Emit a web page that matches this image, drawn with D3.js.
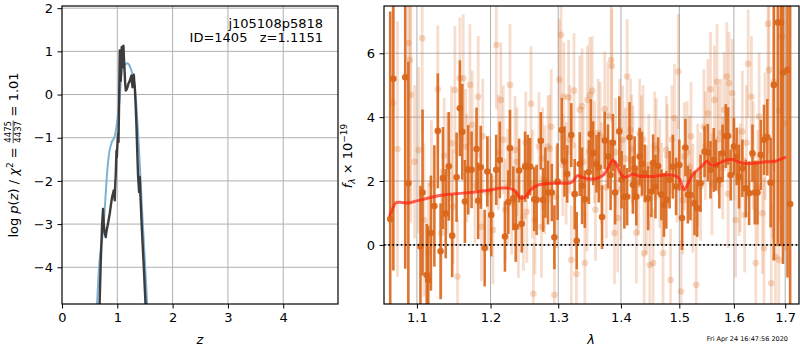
<!DOCTYPE html>
<meta charset="utf-8">
<style>
  body { margin: 0; background: #fff; }
  svg { font-family: "DejaVu Sans", sans-serif; }
</style>
<body>
<svg id="fig" width="800" height="350"></svg>

<script src="https://cdnjs.cloudflare.com/ajax/libs/d3/7.8.5/d3.min.js"></script>
<script>

// ---- left panel: log p(z)
var zTicks = [0, 1, 2, 3, 4]
var pTicks = [-4, -3, -2, -1, 0, 1, 2]

var blueZ    = [0.60, 0.634, 0.67, 0.70, 0.73, 0.77, 0.80, 0.83, 0.86, 0.90, 0.95, 1.00, 1.04, 1.075, 1.117, 1.165, 1.20, 1.256, 1.29, 1.316, 1.346, 1.376, 1.406, 1.44, 1.47, 1.50, 1.54, 1.57]
var blueLogP = [-5.8, -4.85, -4.0, -3.6, -3.3, -2.7, -2.1, -1.6, -1.3, -1.1, -0.98, -0.6, -0.15, 0.45, 0.66, 0.72, 0.71, 0.55, 0.38, 0.17, -0.3, -0.9, -1.6, -2.5, -3.2, -3.9, -4.85, -5.6]

var darkZ    = [0.675, 0.68, 0.70, 0.725, 0.742, 0.755, 0.77, 0.791, 0.80, 0.83, 0.863, 0.885, 0.905, 0.936, 0.954, 0.962, 0.972, 0.985, 0.992, 1.0, 1.014, 1.022, 1.03, 1.044, 1.053, 1.062, 1.071, 1.08, 1.087, 1.093, 1.102, 1.111, 1.12, 1.129, 1.14, 1.153, 1.17, 1.184, 1.2, 1.22, 1.24, 1.256, 1.265, 1.274, 1.286, 1.298, 1.307, 1.316, 1.33, 1.347, 1.36, 1.376, 1.386, 1.394, 1.4, 1.406, 1.42, 1.437, 1.455, 1.479, 1.51, 1.53]
var darkLogP = [-5.5, -4.85, -3.9, -3.0, -2.65, -3.0, -3.2, -3.3, -3.2, -3.0, -2.76, -2.55, -2.38, -2.22, -2.45, -2.1, -1.84, -1.3, -1.45, -1.2, -0.9, -1.1, -0.4, 1.02, 0.6, 0.32, 0.9, 1.1, 0.75, 0.63, 1.0, 1.13, 0.85, 0.63, 0.3, 0.09, 0.12, 0.17, 0.25, 0.3, 0.38, 0.44, 0.3, 0.17, 0.35, 0.46, 0.3, 0.17, -0.2, -0.76, -1.3, -1.91, -2.1, -2.26, -1.95, -1.91, -2.4, -2.92, -3.4, -4.0, -4.85, -5.5]

// ---- right panel: spectrum
var waveTicks = [1.1, 1.2, 1.3, 1.4, 1.5, 1.6, 1.7]
var fluxTicks = [0, 2, 4, 6]

var darkWave = [
  1.0658, 1.0698, 1.0849, 1.0889, 1.1046, 1.1073, 1.1128, 1.1147, 1.1183, 1.1229,
  1.1275, 1.1312, 1.1344, 1.1381, 1.1422, 1.1468, 1.1528, 1.1573, 1.1606, 1.1642,
  1.1688, 1.1734, 1.1803, 1.1826, 1.1862, 1.1917, 1.1954, 1.2010, 1.2081, 1.2132,
  1.2206, 1.2255, 1.2279, 1.2328, 1.2363, 1.2412, 1.2451, 1.2500, 1.2539, 1.2574,
  1.2637, 1.2672, 1.2735, 1.2770, 1.2804, 1.2843, 1.2902, 1.2941, 1.2990, 1.3053,
  1.3096, 1.3138, 1.3202, 1.3255, 1.3287, 1.3335, 1.3372, 1.3415, 1.3479, 1.3511,
  1.3548, 1.3601, 1.3638, 1.3691, 1.3734, 1.3787, 1.3830, 1.3867, 1.3904, 1.3973,
  1.4011, 1.4057, 1.4103, 1.4143, 1.4200, 1.4229, 1.4257, 1.4314, 1.4354, 1.4400,
  1.4457, 1.4514, 1.4543, 1.4583, 1.4629, 1.4686, 1.4731, 1.4771, 1.4829, 1.4886,
  1.4943, 1.5000, 1.5048, 1.5109, 1.5152, 1.5200, 1.5273, 1.5321, 1.5382, 1.5455,
  1.5515, 1.5564, 1.5624, 1.5667, 1.5727, 1.5788, 1.5848, 1.5891, 1.5939, 1.6000,
  1.6052, 1.6097, 1.6161, 1.6226, 1.6290, 1.6355, 1.6400, 1.6452, 1.6516, 1.6581,
  1.6645, 1.6710, 1.6774, 1.6852, 1.6916, 1.6955, 1.7047, 1.7100]
var darkFlux = [
  0.81, 5.20, 5.25, 1.93, -0.05, 1.64, -0.94, -1.10, 0.37, 1.22,
  3.57, -0.20, 2.09, 0.98, 2.46, 0.29, 2.12, 4.28, 3.54, 1.36,
  2.35, 2.35, 3.00, 1.38, 2.43, -0.10, 2.30, 0.94, 2.35, 2.66,
  0.26, 1.34, 3.03, 1.46, 0.57, 2.33, 0.66, 2.45, 2.45, 2.45,
  1.43, 1.41, 3.26, 1.41, 1.95, 1.64, 1.64, 0.24, 1.98, 3.60,
  2.61, 2.22, 3.44, 1.59, 0.13, 2.53, 1.85, 1.43, 2.28, 3.47,
  2.87, 2.54, 2.43, 0.87, 3.27, 2.77, 2.19, 3.20, 1.64, 3.55,
  2.04, 1.51, 1.51, 3.37, 1.88, 2.40, 1.51, 2.77, 2.54, 2.24,
  1.46, 1.67, 2.56, 1.83, 2.47, 1.57, 1.25, 1.41, 2.04, 2.45,
  1.83, 2.50, 0.84, 3.05, 1.57, 1.57, 1.30, 1.15, 1.93, 2.92,
  2.89, 2.35, 2.66, 2.50, 2.04, 2.87, 3.41, 3.41, 2.19, 3.08,
  2.77, 2.14, 2.40, 1.77, 1.62, 2.87, 1.64, 1.64, 2.82, 3.29,
  3.37, 1.95, 5.01, 6.96, 6.96, 5.40, 5.48, 1.28]
var darkErr = [
  6.5, 6.0, 6.0, 3.8, 1.9, 2.6, 1.6, 1.7, 1.8, 1.9,
  1.8, 1.5, 1.6, 1.4, 1.7, 1.3, 1.4, 1.5, 1.5, 1.3,
  1.4, 1.2, 1.3, 1.2, 1.3, 1.2, 1.1, 1.3, 1.1, 1.2,
  1.1, 1.0, 1.2, 1.0, 1.1, 1.0, 0.9, 1.1, 1.0, 0.9,
  1.0, 1.1, 0.9, 1.0, 1.1, 1.0, 0.9, 1.0, 1.2, 1.0,
  1.1, 0.9, 1.0, 1.1, 0.9, 1.0, 1.2, 0.9, 1.0, 1.1,
  1.0, 0.9, 1.1, 1.0, 0.9, 1.0, 1.1, 0.9, 1.0, 1.1,
  0.9, 1.0, 0.9, 1.1, 0.9, 1.0, 0.9, 0.9, 1.0, 0.9,
  1.0, 0.8, 0.9, 1.0, 0.9, 0.8, 1.0, 0.9, 0.9, 1.0,
  0.9, 0.8, 1.0, 0.9, 0.9, 0.8, 1.0, 0.9, 0.9, 0.8,
  0.9, 0.9, 1.0, 0.8, 0.9, 0.9, 1.0, 0.9, 0.8, 0.9,
  0.9, 1.0, 0.9, 0.9, 1.0, 0.9, 1.0, 1.0, 1.1, 1.1,
  1.2, 1.4, 5.5, 7.0, 7.0, 6.0, 6.5, 7.0]

var lightWave = [
  1.0689, 1.0889, 1.0911, 1.0920, 1.1023, 1.1069, 1.1092, 1.1147, 1.1275, 1.1321,
  1.1404, 1.1459, 1.1505, 1.1541, 1.1573, 1.1619, 1.1651, 1.1711, 1.1743, 1.1780,
  1.1826, 1.1872, 1.1963, 1.2034, 1.2083, 1.2147, 1.2181, 1.2245, 1.2279, 1.2304,
  1.2353, 1.2402, 1.2475, 1.2525, 1.2588, 1.2623, 1.2647, 1.2706, 1.2745, 1.2794,
  1.2843, 1.2892, 1.2941, 1.3016, 1.3043, 1.3085, 1.3122, 1.3160, 1.3202, 1.3245,
  1.3282, 1.3335, 1.3372, 1.3415, 1.3457, 1.3495, 1.3532, 1.3585, 1.3628, 1.3681,
  1.3734, 1.3787, 1.3840, 1.3851, 1.3894, 1.3947, 1.4000, 1.4029, 1.4103, 1.4160,
  1.4200, 1.4257, 1.4314, 1.4343, 1.4389, 1.4429, 1.4486, 1.4543, 1.4600, 1.4657,
  1.4714, 1.4771, 1.4846, 1.4914, 1.4983, 1.5030, 1.5091, 1.5182, 1.5242, 1.5303,
  1.5382, 1.5442, 1.5515, 1.5564, 1.5636, 1.5685, 1.5758, 1.5818, 1.5867, 1.5909,
  1.5970, 1.6032, 1.6097, 1.6161, 1.6206, 1.6271, 1.6335, 1.6419, 1.6484, 1.6548,
  1.6581, 1.6658, 1.6677, 1.6723, 1.6774, 1.6806, 1.6871, 1.6935,
  1.075, 1.097, 1.119, 1.136, 1.148, 1.167, 1.189, 1.199, 1.211, 1.221,
  1.238, 1.251, 1.261, 1.276, 1.287, 1.297, 1.307, 1.318, 1.326, 1.339,
  1.345, 1.357, 1.366, 1.376, 1.391, 1.398, 1.407, 1.418, 1.429, 1.437,
  1.447, 1.457, 1.469, 1.479, 1.487, 1.496, 1.506, 1.514, 1.521, 1.533,
  1.547, 1.559, 1.571, 1.579, 1.589, 1.600, 1.612, 1.624, 1.637, 1.646,
  1.660, 1.675, 1.688, 1.700]
var lightFlux = [
  4.44, 6.32, 5.79, 4.70, 2.97, 6.47, 0.78, -0.26, 4.87, 0.37,
  2.24, 3.18, 4.85, -0.99, 5.22, 5.22, 3.08, 5.01, 3.76, 1.85,
  4.64, 0.57, 1.62, 0.47, 6.26, 4.54, 3.29, 1.83, 5.01, 1.30,
  2.97, 0.57, 0.89, 1.04, 4.42, -1.53, 0.78, 3.08, 0.57, 2.04,
  3.08, 3.70, -1.57, 5.17, 6.58, 4.64, 2.24, 4.62, -0.47, 4.83,
  -0.91, 4.23, 4.35, -0.57, 4.54, 4.70, 4.83, 1.10, 3.50, 2.24,
  4.25, 4.04, 5.79, 5.60, 0.37, 0.84, 1.74, 3.29, 5.27, 3.60,
  2.66, 0.39, 3.50, 3.08, -0.26, 1.41, -0.63, -0.57, 2.99, 2.24,
  -0.26, 2.97, -1.10, 3.97, 5.43, -1.46, 2.77, 2.45, 1.46, -1.25,
  1.83, 3.70, 4.12, 4.87, 4.54, 5.11, 3.50, 4.23, 5.27, 5.06,
  4.75, 0.78, 1.98, 3.55, 0.94, 5.67, 4.64, -0.57, 4.02, 0.99,
  -0.10, 6.92, 5.48, -1.20, 5.11, -0.37, -0.47, 6.52,
  3.0, 2.6, 1.9, 2.8, 1.2, 2.4, 3.4, 1.7, 2.9, 1.1,
  2.6, 3.2, 1.9, 2.7, 3.0, 1.5, 2.5, 3.3, 1.6, 2.6,
  1.4, 2.9, 3.4, 1.8, 2.9, 3.6, 2.7, 3.0, 1.9, 3.3,
  2.5, 3.1, 1.6, 2.8, 3.3, 2.3, 1.4, 2.9, 3.4, 2.2,
  3.1, 1.9, 3.3, 2.4, 1.6, 3.0, 2.1, 3.2, 2.8, 1.8,
  3.4, 2.6, 4.2, 3.8]
var lightErr = [
  4.5, 5.0, 4.5, 4.0, 2.6, 3.0, 2.4, 2.2, 2.0, 2.0,
  1.9, 1.8, 2.0, 1.8, 1.9, 2.0, 1.8, 1.9, 1.7, 1.8,
  1.9, 1.7, 1.8, 1.7, 2.0, 1.8, 1.7, 1.8, 1.9, 1.6,
  1.7, 1.6, 1.7, 1.6, 1.8, 1.6, 1.7, 1.7, 1.6, 1.7,
  1.6, 1.8, 1.6, 1.9, 2.0, 1.7, 1.6, 1.8, 1.7, 1.8,
  1.6, 1.7, 1.8, 1.6, 1.7, 1.8, 1.7, 1.6, 1.7, 1.6,
  1.8, 1.7, 1.9, 1.8, 1.6, 1.7, 1.6, 1.7, 1.8, 1.6,
  1.7, 1.6, 1.7, 1.6, 1.6, 1.7, 1.6, 1.7, 1.6, 1.7,
  1.6, 1.7, 1.6, 1.7, 1.8, 1.6, 1.7, 1.6, 1.7, 1.6,
  1.7, 1.8, 1.7, 1.8, 1.7, 1.8, 1.7, 1.8, 1.7, 1.6,
  1.7, 1.8, 1.7, 1.9, 1.8, 1.7, 1.9, 1.8, 2.0, 1.9,
  2.2, 2.4, 2.6, 2.5, 2.8, 3.0, 3.2, 3.5,
  4.0, 2.4, 2.0, 1.8, 1.8, 1.7, 1.8, 1.7, 1.8, 1.6,
  1.7, 1.6, 1.7, 1.6, 1.7, 1.6, 1.6, 1.7, 1.6, 1.7,
  1.6, 1.6, 1.7, 1.6, 1.7, 1.6, 1.6, 1.7, 1.6, 1.7,
  1.6, 1.7, 1.6, 1.6, 1.7, 1.6, 1.7, 1.6, 1.7, 1.6,
  1.7, 1.6, 1.7, 1.6, 1.7, 1.6, 1.7, 1.8, 1.7, 1.8,
  2.0, 2.4, 3.5, 4.0]

var modelWave = [1.065, 1.070, 1.073, 1.080, 1.088, 1.100, 1.115, 1.130, 1.150, 1.175, 1.200, 1.215, 1.228, 1.236, 1.243, 1.250, 1.258, 1.270, 1.285, 1.300, 1.315, 1.322, 1.330, 1.337, 1.345, 1.360, 1.372, 1.380, 1.386, 1.392, 1.398, 1.405, 1.412, 1.420, 1.430, 1.450, 1.470, 1.490, 1.500, 1.505, 1.509, 1.515, 1.525, 1.540, 1.550, 1.556, 1.565, 1.580, 1.595, 1.605, 1.620, 1.640, 1.660, 1.680, 1.690, 1.702]
var modelFlux = [0.90, 1.20, 1.32, 1.33, 1.31, 1.38, 1.47, 1.55, 1.60, 1.65, 1.72, 1.78, 1.77, 1.68, 1.47, 1.50, 1.72, 1.88, 1.92, 1.94, 1.93, 1.98, 2.17, 2.12, 2.07, 2.08, 2.20, 2.45, 2.65, 2.55, 2.28, 2.12, 2.15, 2.22, 2.16, 2.14, 2.18, 2.18, 2.08, 1.85, 1.72, 1.90, 2.22, 2.45, 2.62, 2.52, 2.50, 2.62, 2.68, 2.62, 2.55, 2.56, 2.60, 2.62, 2.68, 2.75]


var svg = d3.select('#fig')
var gridColor = '#b0b0b0'
var orange = '#d9661a'


// draw a math-ish label rotated -90, pieces measured one after another
function mathLabel(cx, cy, parts) {
  var outer = svg.append('g').attr('transform', 'translate(' + cx + ',' + cy + ') rotate(-90)')
  var g = outer.append('g')
  var x = 0
  parts.forEach(function (p) {
    if (p.frac) {
      var n = g.append('text').attr('x', x).attr('y', -6.5).attr('font-size', 8.5).text(p.frac[0])
      var d = g.append('text').attr('x', x).attr('y', 3.8).attr('font-size', 8.5).text(p.frac[1])
      var w = Math.max(n.node().getComputedTextLength(), d.node().getComputedTextLength()) + 1
      n.attr('x', x + 0.5); d.attr('x', x + 0.5)
      g.append('line').attr('x1', x).attr('x2', x + w).attr('y1', -4.3).attr('y2', -4.3)
        .attr('stroke', '#000').attr('stroke-width', 0.7)
      x += w
    } else {
      var t = g.append('text').attr('x', x).attr('y', p.dy || 0)
        .attr('font-size', p.size || 13)
        .attr('font-style', p.italic ? 'italic' : null)
        .style('white-space', 'pre')
        .text(p.t)
      x += t.node().getComputedTextLength()
    }
  })
  g.attr('transform', 'translate(' + (-x / 2) + ',0)')
}

function panel(x0, x1, y0, y1, xs, ys, xt, yt, xfmt, yfmt, id) {
  var g = svg.append('g')
  svg.append('clipPath').attr('id', id).append('rect')
    .attr('x', x0).attr('y', y0).attr('width', x1 - x0).attr('height', y1 - y0)

  // grid
  g.selectAll('.gx').data(xt).join('line')
    .attr('x1', d => xs(d)).attr('x2', d => xs(d)).attr('y1', y0).attr('y2', y1)
    .attr('stroke', gridColor).attr('stroke-width', 1)
  g.selectAll('.gy').data(yt).join('line')
    .attr('class', 'gy')
    .attr('y1', d => ys(d)).attr('y2', d => ys(d)).attr('x1', x0).attr('x2', x1)
    .attr('stroke', gridColor).attr('stroke-width', 1)
  return g
}

function axes(x0, x1, y0, y1, xs, ys, xt, yt, xfmt, yfmt) {
  var ax = svg.append('g').attr('transform', 'translate(0,' + y1 + ')')
    .call(d3.axisBottom(xs).tickValues(xt).tickFormat(xfmt).tickSize(4.5).tickPadding(4.5))
  var ay = svg.append('g').attr('transform', 'translate(' + x0 + ',0)')
    .call(d3.axisLeft(ys).tickValues(yt).tickFormat(yfmt).tickSize(4.5).tickPadding(4.5))
  ;[ax, ay].forEach(function (a) {
    a.select('.domain').remove()
    a.selectAll('text').attr('font-size', 13).attr('font-family', '"DejaVu Sans", sans-serif').attr('fill', '#000')
    a.selectAll('line').attr('stroke', '#000').attr('stroke-width', 1)
  })
  svg.append('rect').attr('x', x0).attr('y', y0).attr('width', x1 - x0).attr('height', y1 - y0)
    .attr('fill', 'none').attr('stroke', '#000').attr('stroke-width', 1.2)
}


// ---------------- left panel ----------------
var L = { x0: 62, x1: 338, y0: 6, y1: 304 }
var xz = d3.scaleLinear().domain([0, 4.99]).range([L.x0, L.x1])
var yp = d3.scaleLinear().domain([-4.85, 2.05]).range([L.y1, L.y0])

var gl = panel(L.x0, L.x1, L.y0, L.y1, xz, yp, zTicks.slice(1), pTicks, null, null, 'clipL')
var lineL = d3.line().x(d => xz(d[0])).y(d => yp(d[1]))

gl.append('path').datum(d3.zip(blueZ, blueLogP))
  .attr('clip-path', 'url(#clipL)')
  .attr('d', lineL.curve(d3.curveCatmullRom))
  .attr('fill', 'none').attr('stroke', '#7fb1d6').attr('stroke-width', 2)

gl.append('path').datum(d3.zip(darkZ, darkLogP))
  .attr('clip-path', 'url(#clipL)')
  .attr('d', d3.line().x(d => xz(d[0])).y(d => yp(d[1])))
  .attr('fill', 'none').attr('stroke', '#333').attr('stroke-width', 2.4)
  .attr('stroke-linejoin', 'round').attr('opacity', 0.95)

axes(L.x0, L.x1, L.y0, L.y1, xz, yp, zTicks, pTicks, d3.format('d'), d3.format('d'))

svg.append('text').attr('x', 323).attr('y', 28).attr('text-anchor', 'end')
  .attr('font-size', 13).text('j105108p5818')
svg.append('text').attr('x', 323).attr('y', 42).attr('text-anchor', 'end')
  .attr('font-size', 13).style('white-space', 'pre').text('ID=1405   z=1.1151')

svg.append('text').attr('x', 200).attr('y', 344).attr('text-anchor', 'middle')
  .attr('font-size', 13).attr('font-style', 'italic').text('z')

mathLabel(17.5, 155, [
  { t: 'log ' }, { t: 'p', italic: true }, { t: '(' }, { t: 'z', italic: true }, { t: ') / ' },
  { t: 'χ', italic: true }, { t: '2', size: 9, dy: -5 }, { t: ' = ' },
  { frac: ['4475', '4437'] }, { t: ' = 1.01' }
])


// ---------------- right panel ----------------
var R = { x0: 384, x1: 799, y0: 6, y1: 304 }
var xw = d3.scaleLog().domain([1.058, 1.728]).range([R.x0, R.x1])
var yf = d3.scaleLinear().domain([-1.85, 7.48]).range([R.y1, R.y0])

var gr = panel(R.x0, R.x1, R.y0, R.y1, xw, yf, waveTicks, fluxTicks, null, null, 'clipR')
var spec = gr.append('g').attr('clip-path', 'url(#clipR)')

var lightRows = d3.zip(lightWave, lightFlux, lightErr)
var darkRows = d3.zip(darkWave, darkFlux, darkErr)

spec.selectAll('.lbar').data(lightRows).join('line')
  .attr('x1', d => xw(d[0])).attr('x2', d => xw(d[0]))
  .attr('y1', d => yf(d[1] - d[2])).attr('y2', d => yf(d[1] + d[2]))
  .attr('stroke', orange).attr('stroke-width', 2.8).attr('stroke-opacity', 0.22)
spec.selectAll('.lpt').data(lightRows).join('circle')
  .attr('cx', d => xw(d[0])).attr('cy', d => yf(d[1])).attr('r', 3.3)
  .attr('fill', orange).attr('fill-opacity', 0.25)

spec.selectAll('.dbar').data(darkRows).join('line')
  .attr('x1', d => xw(d[0])).attr('x2', d => xw(d[0]))
  .attr('y1', d => yf(d[1] - d[2])).attr('y2', d => yf(d[1] + d[2]))
  .attr('stroke', orange).attr('stroke-width', 2.6).attr('stroke-opacity', 0.9)
spec.selectAll('.dpt').data(darkRows).join('circle')
  .attr('cx', d => xw(d[0])).attr('cy', d => yf(d[1])).attr('r', 3.3)
  .attr('fill', orange).attr('fill-opacity', 0.95)

spec.append('path').datum(d3.zip(modelWave, modelFlux))
  .attr('d', d3.line().x(d => xw(d[0])).y(d => yf(d[1])).curve(d3.curveCatmullRom))
  .attr('fill', 'none').attr('stroke', '#ff1f10').attr('stroke-width', 3).attr('stroke-opacity', 0.7)

spec.append('line').attr('x1', R.x0).attr('x2', R.x1).attr('y1', yf(0)).attr('y2', yf(0))
  .attr('stroke', '#000').attr('stroke-width', 1.6).attr('stroke-dasharray', '1.6,2.6')

axes(R.x0, R.x1, R.y0, R.y1, xw, yf, waveTicks, fluxTicks, d3.format('.1f'), d3.format('d'))

svg.append('text').attr('x', 591).attr('y', 344).attr('text-anchor', 'middle')
  .attr('font-size', 13).attr('font-style', 'italic').text('λ')

mathLabel(352, 156, [
  { t: 'f', italic: true }, { t: 'λ', italic: true, size: 9, dy: 3 },
  { t: ' × 10' }, { t: '−19', size: 9, dy: -5 }
])

svg.append('text').attr('x', 788).attr('y', 341).attr('text-anchor', 'end')
  .attr('font-size', 6.5).text('Fri Apr 24 16:47:56 2020')

</script>
</body>
